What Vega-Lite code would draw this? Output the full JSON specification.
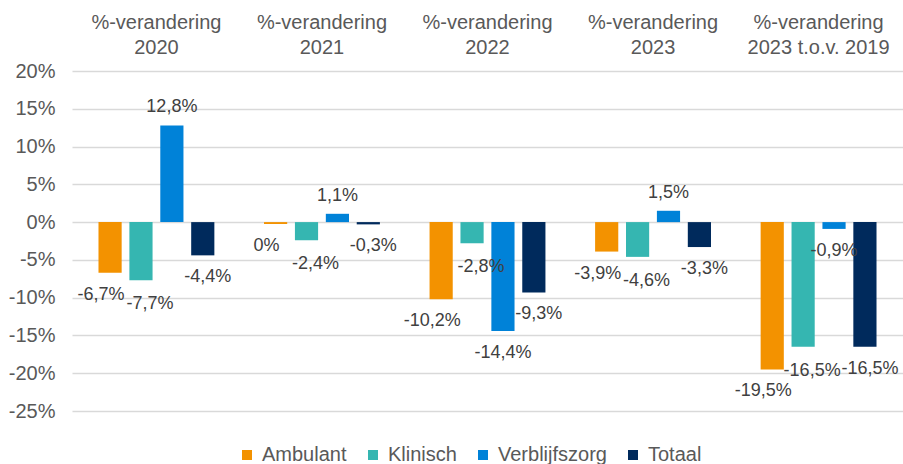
{
  "$schema": "https://vega.github.io/schema/vega-lite/v6.json",
  "autosize": {"type": "none"},
  "width": 831,
  "height": 340,
  "padding": {"left": 72, "top": 71, "right": 0, "bottom": 53},
  "background": "white",
  "config": {
    "view": {"stroke": null},
    "font": "Liberation Sans",
    "text": {"font": "Liberation Sans"}
  },
  "data": {
    "values": [
      {"cat": "%-verandering 2020", "serie": "Ambulant", "v": -6.7, "label": "-6,7%"},
      {"cat": "%-verandering 2020", "serie": "Klinisch", "v": -7.7, "label": "-7,7%"},
      {"cat": "%-verandering 2020", "serie": "Verblijfszorg", "v": 12.8, "label": "12,8%"},
      {"cat": "%-verandering 2020", "serie": "Totaal", "v": -4.4, "label": "-4,4%"},
      {"cat": "%-verandering 2021", "serie": "Ambulant", "v": -0.25, "label": "0%"},
      {"cat": "%-verandering 2021", "serie": "Klinisch", "v": -2.4, "label": "-2,4%"},
      {"cat": "%-verandering 2021", "serie": "Verblijfszorg", "v": 1.1, "label": "1,1%"},
      {"cat": "%-verandering 2021", "serie": "Totaal", "v": -0.3, "label": "-0,3%"},
      {"cat": "%-verandering 2022", "serie": "Ambulant", "v": -10.2, "label": "-10,2%"},
      {"cat": "%-verandering 2022", "serie": "Klinisch", "v": -2.8, "label": "-2,8%"},
      {"cat": "%-verandering 2022", "serie": "Verblijfszorg", "v": -14.4, "label": "-14,4%"},
      {"cat": "%-verandering 2022", "serie": "Totaal", "v": -9.3, "label": "-9,3%"},
      {"cat": "%-verandering 2023", "serie": "Ambulant", "v": -3.9, "label": "-3,9%"},
      {"cat": "%-verandering 2023", "serie": "Klinisch", "v": -4.6, "label": "-4,6%"},
      {"cat": "%-verandering 2023", "serie": "Verblijfszorg", "v": 1.5, "label": "1,5%"},
      {"cat": "%-verandering 2023", "serie": "Totaal", "v": -3.3, "label": "-3,3%"},
      {"cat": "%-verandering 2023 t.o.v. 2019", "serie": "Ambulant", "v": -19.5, "label": "-19,5%"},
      {"cat": "%-verandering 2023 t.o.v. 2019", "serie": "Klinisch", "v": -16.5, "label": "-16,5%"},
      {"cat": "%-verandering 2023 t.o.v. 2019", "serie": "Verblijfszorg", "v": -0.9, "label": "-0,9%"},
      {"cat": "%-verandering 2023 t.o.v. 2019", "serie": "Totaal", "v": -16.5, "label": "-16,5%"}
    ]
  },
  "encoding": {
    "x": {
      "field": "cat", "type": "nominal",
      "sort": ["%-verandering 2020", "%-verandering 2021", "%-verandering 2022", "%-verandering 2023", "%-verandering 2023 t.o.v. 2019"],
      "scale": {"paddingInner": 0.3, "paddingOuter": 0.16},
      "axis": {
        "orient": "top", "title": null, "ticks": false, "domain": false,
        "labelAngle": 0, "labelFontSize": 20, "labelColor": "#595959",
        "labelPadding": 39, "labelLineHeight": 25,
        "labelExpr": "[substring(datum.label, 0, indexof(datum.label, ' ')), substring(datum.label, indexof(datum.label, ' ') + 1)]"
      }
    },
    "xOffset": {
      "field": "serie", "type": "nominal",
      "sort": ["Ambulant", "Klinisch", "Verblijfszorg", "Totaal"],
      "scale": {"paddingInner": 0.25, "paddingOuter": 0}
    },
    "y": {
      "field": "v", "type": "quantitative",
      "scale": {"domain": [-25, 20], "nice": false, "zero": false},
      "axis": {
        "title": null, "values": [-25, -20, -15, -10, -5, 0, 5, 10, 15, 20],
        "labelExpr": "datum.value + '%'",
        "ticks": false, "domain": false,
        "labelFontSize": 20, "labelColor": "#595959", "labelPadding": 17,
        "gridColor": "#d9d9d9", "gridWidth": 1.5
      }
    }
  },
  "layer": [
    {
      "mark": {"type": "bar"},
      "encoding": {
        "color": {
          "field": "serie", "type": "nominal",
          "scale": {
            "domain": ["Ambulant", "Klinisch", "Verblijfszorg", "Totaal"],
            "range": ["#f39200", "#35b6b1", "#0082d8", "#002a5c"]
          },
          "legend": {
            "title": null, "orient": "none", "direction": "horizontal",
            "legendX": 165, "legendY": 374,
            "symbolType": "square", "symbolSize": 100, "symbolStrokeWidth": 0,
            "labelFontSize": 20, "labelColor": "#595959", "labelOffset": 5,
            "columnPadding": 16
          }
        },
        "y2": {"datum": 0}
      }
    },
    {
      "transform": [{"filter": "datum.v < 0 && datum.serie == 'Ambulant'"}],
      "mark": {"type": "text", "fontSize": 18, "color": "#404040", "baseline": "middle", "dy": 22, "dx": -9},
      "encoding": {"text": {"field": "label"}}
    },
    {
      "transform": [{"filter": "datum.v < 0 && datum.serie == 'Klinisch'"}],
      "mark": {"type": "text", "fontSize": 18, "color": "#404040", "baseline": "middle", "dy": 24, "dx": 9},
      "encoding": {"text": {"field": "label"}}
    },
    {
      "transform": [{"filter": "datum.v < 0 && datum.serie == 'Verblijfszorg'"}],
      "mark": {"type": "text", "fontSize": 18, "color": "#404040", "baseline": "middle", "dy": 22},
      "encoding": {"text": {"field": "label"}}
    },
    {
      "transform": [{"filter": "datum.v < 0 && datum.serie == 'Totaal'"}],
      "mark": {"type": "text", "fontSize": 18, "color": "#404040", "baseline": "middle", "dy": 22, "dx": 5},
      "encoding": {"text": {"field": "label"}}
    },
    {
      "transform": [{"filter": "datum.v >= 0"}],
      "mark": {"type": "text", "fontSize": 18, "color": "#404040", "baseline": "middle", "dy": -18},
      "encoding": {"text": {"field": "label"}}
    }
  ]
}
